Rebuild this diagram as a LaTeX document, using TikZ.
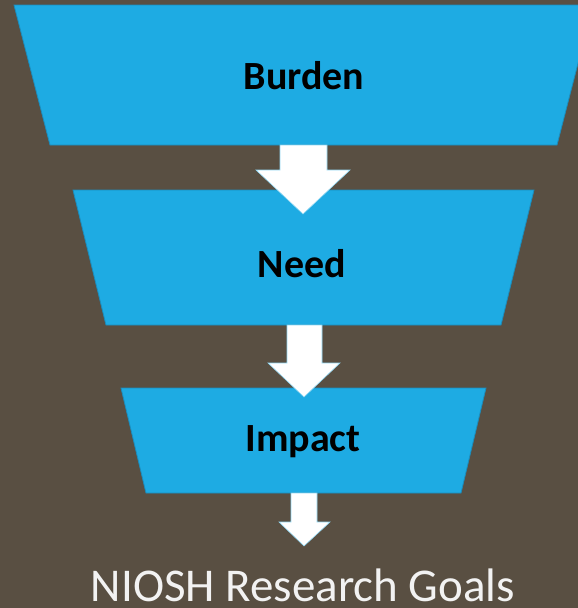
\documentclass[tikz,border=0pt]{standalone}
\usepackage{fontspec}
\setmainfont{Carlito}
\definecolor{bgc}{HTML}{594F42}
\definecolor{funnel}{HTML}{1EABE3}
\definecolor{funnelline}{HTML}{1B8CBC}
\definecolor{arrowline}{HTML}{8FD6F2}
\definecolor{titlec}{HTML}{F2F2F2}
\begin{document}
\begin{tikzpicture}[x=1pt,y=-1pt,
  level/.style={fill=funnel,draw=funnelline,line width=0.8pt},
  blockarrow/.style={fill=white,draw=arrowline,line width=0.6pt},
  lbl/.style={font=\bfseries\fontsize{40}{42}\selectfont,text=black,inner sep=0pt},
  ttl/.style={font=\fontsize{47}{50}\selectfont,text=titlec,inner sep=0pt,text depth=0pt,anchor=base}]
\useasboundingbox (0,0) rectangle (578,608);
\fill[bgc] (0,0) rectangle (578,608);
\begin{scope}
\clip (0,0) rectangle (578,608);
% funnel levels
\draw[level] (14,5) -- (593,5) -- (557,145) -- (50,145) -- cycle;
\draw[level] (73,190) -- (534,190) -- (501,325) -- (106,325) -- cycle;
\draw[level] (121,388) -- (486,388) -- (461,493) -- (146,493) -- cycle;
% block arrows
\draw[blockarrow] (280,145) -- (327,145) -- (327,170) -- (350,170) -- (303,214) -- (256,170) -- (280,170) -- cycle;
\draw[blockarrow] (287,325) -- (322,325) -- (322,363) -- (340,363) -- (304,397) -- (268,363) -- (287,363) -- cycle;
\draw[blockarrow] (291,493) -- (317,493) -- (317,522) -- (330,522) -- (304,546) -- (279,522) -- (291,522) -- cycle;
\end{scope}
% labels
\node[lbl] (burden) at (304,76) {Burden};
\node[lbl] (need) at (302,264) {Need};
\node[lbl] (impact) at (303,442) {Impact};
\node[ttl] (goals) at (303,601) {NIOSH Research Goals};
\end{tikzpicture}
\end{document}
